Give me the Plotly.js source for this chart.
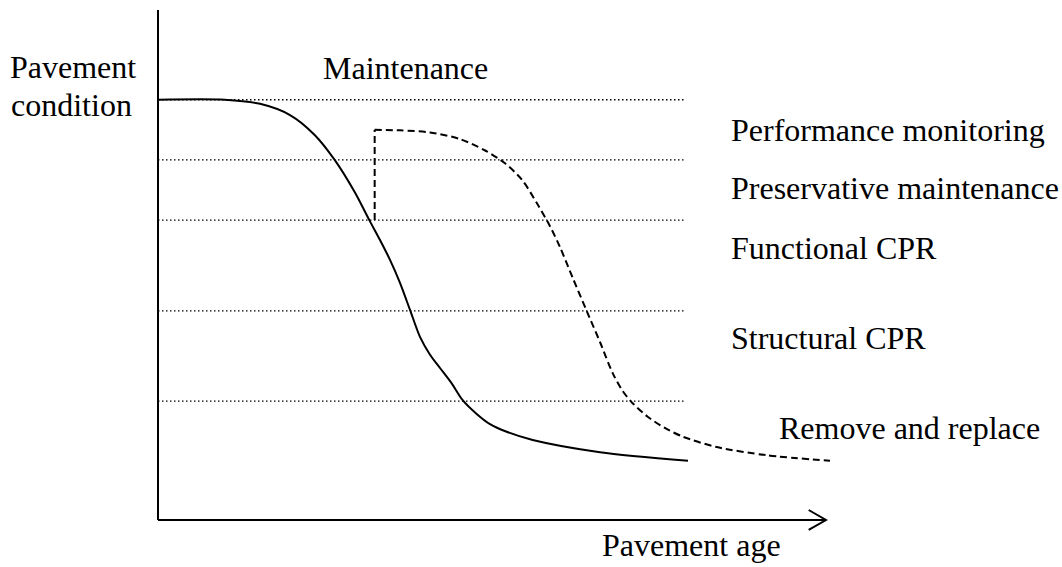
<!DOCTYPE html>
<html>
<head>
<meta charset="utf-8">
<script src="https://cdn.plot.ly/plotly-3.0.1.min.js"></script>
<style>html,body{margin:0;padding:0;background:#fff;}#chart{width:1062px;height:567px;}</style>
</head>
<body>
<div id="chart"></div>
<script>
// Condition thresholds (dotted lines), in condition units (0-100)
var thresholdLevels = [82.4, 70.6, 58.8, 41.0, 23.3];
var thresholdEnd = 79.2;

// Solid curve: no maintenance
var ageSolid = [0, 10.0, 15.3, 19.8, 23.5, 26.5, 29.5, 31.7, 33.3, 34.8, 36.3, 37.8, 39.3, 40.8, 42.3, 44.1, 45.7, 47.8, 49.8, 52.3, 56.2, 66.3, 79.5];
var condSolid = [82.4, 82.4, 81.6, 79.4, 75.5, 70.6, 64.3, 58.8, 54.9, 51.0, 46.5, 41.2, 35.9, 32.4, 29.8, 26.7, 23.5, 20.8, 18.8, 17.3, 15.7, 13.3, 11.6];

// Dashed curve: with maintenance (jump, then decay)
var ageJump = [32.5, 32.5];
var condJump = [58.8, 76.5];
var ageDash = [32.5, 36.3, 40.8, 45.3, 49.0, 52.0, 54.6, 56.8, 58.8, 60.3, 62.2, 64.3, 66.3, 68.2, 69.7, 71.2, 73.5, 76.1, 78.8, 83.8, 91.3, 100.8];
var condDash = [76.5, 76.4, 76.0, 74.7, 72.5, 70.0, 66.7, 62.2, 57.6, 53.5, 47.5, 41.0, 34.9, 28.8, 25.3, 22.9, 20.2, 18.0, 16.3, 14.3, 12.7, 11.6];

var labels = ["Performance monitoring", "Preservative maintenance", "Functional CPR", "Structural CPR", "Remove and replace"];

var W = 1062, H = 567;
var FONT = {family: "Times New Roman, Liberation Serif, DejaVu Serif, serif", size: 32, color: "#000"};

var traces = [];
thresholdLevels.forEach(function (lv) {
  traces.push({x: [0, thresholdEnd], y: [lv, lv], mode: "lines", hoverinfo: "skip",
    line: {color: "#000", width: 1.3, dash: "1.5px,2.5px"}});
});
traces.push({x: ageSolid, y: condSolid, mode: "lines", line: {color: "#000", width: 2, shape: "spline", smoothing: 0.8}});
traces.push({x: ageJump, y: condJump, mode: "lines", line: {color: "#000", width: 2, dash: "7px,4px"}});
traces.push({x: ageDash, y: condDash, mode: "lines", line: {color: "#000", width: 2, dash: "7px,4px", shape: "spline", smoothing: 0.8}});

function ann(text, px, baseline) {
  return {text: text, x: px / W, y: 1 - (baseline + 8) / H, xref: "paper", yref: "paper",
    xanchor: "left", yanchor: "bottom", showarrow: false, font: FONT, align: "left"};
}

var annotations = [
  ann("Pavement", 8, 79),
  ann("condition", 9, 117),
  ann("Maintenance", 321, 80),
  ann(labels[0], 729, 142),
  ann(labels[1], 729, 200),
  ann(labels[2], 729, 260),
  ann(labels[3], 729, 350),
  ann(labels[4], 777, 440),
  ann("Pavement age", 600, 557)
];

var layout = {
  width: W, height: H,
  margin: {l: 0, r: 0, t: 0, b: 0},
  paper_bgcolor: "#fff", plot_bgcolor: "#fff",
  showlegend: false,
  font: FONT,
  xaxis: {range: [-23.7, 135.6], visible: false, fixedrange: true},
  yaxis: {range: [-9.216, 101.96], visible: false, fixedrange: true},
  shapes: [
    {type: "line", x0: 0, x1: 0, y0: 0, y1: 100, line: {color: "#000", width: 2}},
    {type: "line", x0: 0, x1: 100.2, y0: 0, y1: 0, line: {color: "#000", width: 2}},
    {type: "path", path: "M 97.6 1.96 L 100.2 0 L 97.6 -1.96", line: {color: "#000", width: 2}}
  ],
  annotations: annotations
};

Plotly.newPlot("chart", traces, layout, {displayModeBar: false, staticPlot: true});
</script>
</body>
</html>
